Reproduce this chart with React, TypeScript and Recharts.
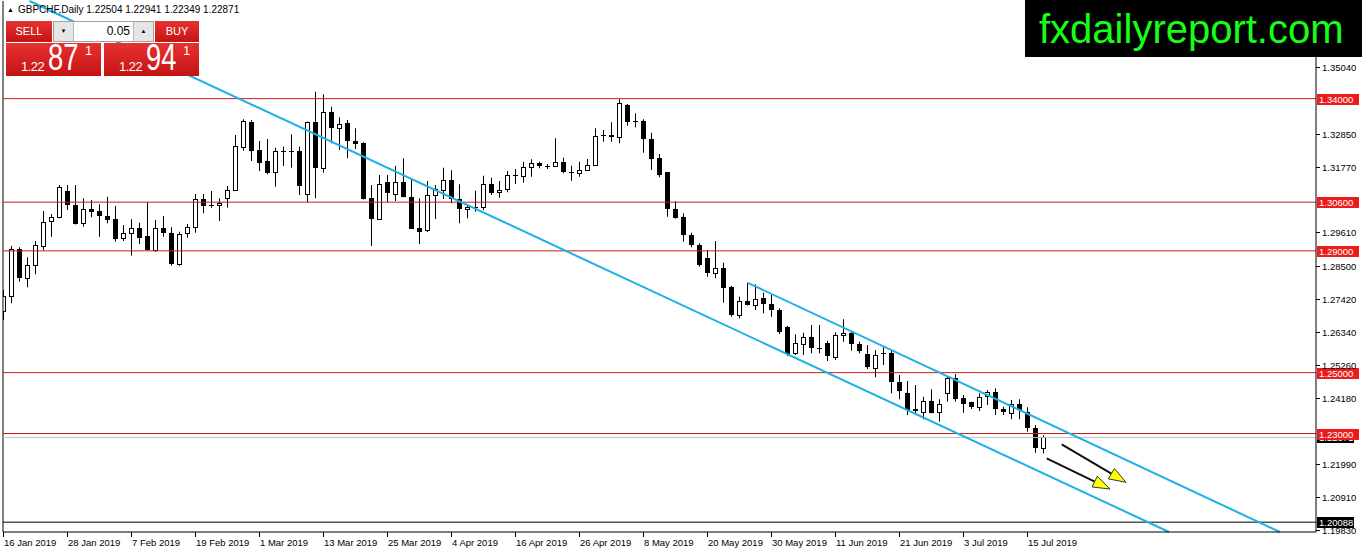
import React from 'react';
import { ComposedChart, Bar, XAxis, YAxis, ReferenceLine } from 'recharts';

const symbolTitle = 'GBPCHF,Daily';
const lastBar = ['1.22504', '1.22941', '1.22349', '1.22871'];

const dateLabels = [
  '16 Jan 2019', '28 Jan 2019', '7 Feb 2019', '19 Feb 2019', '1 Mar 2019', '13 Mar 2019',
  '25 Mar 2019', '4 Apr 2019', '16 Apr 2019', '26 Apr 2019', '8 May 2019', '20 May 2019',
  '30 May 2019', '11 Jun 2019', '21 Jun 2019', '3 Jul 2019', '15 Jul 2019',
];
const barsPerLabel = 8;

const opens = [
  1.27025, 1.27494, 1.29061, 1.28099, 1.28526, 1.29150, 1.29958, 1.30103, 1.30967, 1.30507,
  1.29906, 1.30375, 1.30310, 1.30145, 1.30047, 1.29400, 1.29577, 1.29741, 1.29488, 1.29028,
  1.29741, 1.29577, 1.28569, 1.29577, 1.29774, 1.30694, 1.30507, 1.30507, 1.30727, 1.30990,
  1.32402, 1.33243, 1.32304, 1.31952, 1.31601, 1.32281, 1.32271, 1.32281, 1.30858, 1.33223,
  1.31712, 1.33552, 1.33026, 1.33191, 1.32609, 1.32534, 1.30727, 1.30037, 1.31252, 1.30878,
  1.31272, 1.30779, 1.29735, 1.29685, 1.30835, 1.30999, 1.31318, 1.30694, 1.30375, 1.30418,
  1.30418, 1.31187, 1.30911, 1.31022, 1.31482, 1.31459, 1.31745, 1.31877, 1.31788, 1.31765,
  1.31909, 1.31568, 1.31535, 1.31647, 1.31844, 1.32783, 1.32806, 1.32731, 1.33792, 1.33243,
  1.33266, 1.32665, 1.32041, 1.31581, 1.30375, 1.30103, 1.29511, 1.29183, 1.28756, 1.28263,
  1.28427, 1.27803, 1.26916, 1.27363, 1.27222, 1.27442, 1.27245, 1.27057, 1.26489, 1.25635,
  1.25931, 1.26161, 1.25799, 1.25964, 1.25523, 1.26226, 1.26292, 1.25931, 1.25602, 1.25162,
  1.25635, 1.25635, 1.24682, 1.24321, 1.23805, 1.23717, 1.24068, 1.23717, 1.24354, 1.24814,
  1.24177, 1.24025, 1.23861, 1.24209, 1.24354, 1.23795, 1.23664, 1.23960, 1.23697, 1.23171,
  1.22504,
];
const highs = [
  1.27714, 1.29160, 1.29117, 1.28789, 1.29324, 1.30310, 1.30211, 1.31164, 1.31164, 1.31164,
  1.30727, 1.30671, 1.30530, 1.30779, 1.30474, 1.29850, 1.30037, 1.29925, 1.30595, 1.30014,
  1.30145, 1.29774, 1.29630, 1.29883, 1.30868, 1.30868, 1.30967, 1.30727, 1.31131, 1.32806,
  1.33322, 1.33299, 1.32609, 1.32675, 1.32389, 1.32422, 1.32829, 1.32422, 1.33250, 1.34229,
  1.34143, 1.33736, 1.33388, 1.33299, 1.33026, 1.32566, 1.31164, 1.31492, 1.31492, 1.31788,
  1.32041, 1.31328, 1.30727, 1.31295, 1.31164, 1.31732, 1.31647, 1.31187, 1.30530, 1.30977,
  1.31469, 1.31404, 1.31295, 1.31624, 1.31689, 1.31929, 1.32008, 1.31929, 1.31854, 1.32698,
  1.32061, 1.31798, 1.31929, 1.32018, 1.33026, 1.32970, 1.33223, 1.33979, 1.33825, 1.33519,
  1.33322, 1.32882, 1.32182, 1.31590, 1.30638, 1.30234, 1.29597, 1.29249, 1.29028, 1.29324,
  1.28611, 1.27846, 1.27494, 1.27954, 1.27902, 1.27626, 1.27550, 1.27113, 1.26532, 1.26259,
  1.26312, 1.26565, 1.26565, 1.26049, 1.26325, 1.26752, 1.26345, 1.26016, 1.25908, 1.25743,
  1.25852, 1.25766, 1.24922, 1.24725, 1.24594, 1.24209, 1.24452, 1.24124, 1.24889, 1.24955,
  1.24265, 1.24045, 1.24321, 1.24429, 1.24485, 1.23881, 1.24101, 1.24124, 1.23861, 1.23280,
  1.22941,
];
const lows = [
  1.26729, 1.27278, 1.27987, 1.27803, 1.28230, 1.29028, 1.29465, 1.30070, 1.30342, 1.29866,
  1.29794, 1.30103, 1.29465, 1.29906, 1.29301, 1.29324, 1.28841, 1.29226, 1.29005, 1.28973,
  1.29465, 1.28513, 1.28513, 1.29433, 1.29597, 1.30234, 1.30418, 1.29981, 1.30418, 1.30975,
  1.32291, 1.31952, 1.31624, 1.31515, 1.31108, 1.31788, 1.31732, 1.30835, 1.30595, 1.30727,
  1.31568, 1.32534, 1.32313, 1.32041, 1.32346, 1.30687, 1.29160, 1.30014, 1.30595, 1.30638,
  1.30760, 1.29718, 1.29226, 1.29620, 1.30047, 1.30704, 1.30563, 1.29906, 1.30070, 1.30287,
  1.30342, 1.30835, 1.30746, 1.30924, 1.31197, 1.31239, 1.31436, 1.31712, 1.31689, 1.31755,
  1.31548, 1.31305, 1.31436, 1.31630, 1.31828, 1.32586, 1.32586, 1.32534, 1.33112, 1.33059,
  1.32225, 1.31656, 1.31417, 1.30122, 1.30057, 1.29301, 1.29117, 1.28480, 1.28151, 1.28099,
  1.27297, 1.26837, 1.26785, 1.27205, 1.27057, 1.26949, 1.26837, 1.26269, 1.25546, 1.25579,
  1.25579, 1.25635, 1.25635, 1.25382, 1.25415, 1.26016, 1.25721, 1.25635, 1.25119, 1.24847,
  1.25251, 1.24321, 1.24124, 1.23608, 1.23608, 1.23467, 1.23664, 1.23388, 1.24045, 1.24045,
  1.23684, 1.23805, 1.23740, 1.23937, 1.23608, 1.23608, 1.23467, 1.23467, 1.23060, 1.22370,
  1.22349,
];
const closes = [
  1.27517, 1.29051, 1.28099, 1.28526, 1.29183, 1.29938, 1.30103, 1.31088, 1.30497, 1.29892,
  1.30365, 1.30287, 1.30155, 1.30014, 1.29400, 1.29577, 1.29741, 1.29400, 1.29028, 1.29741,
  1.29577, 1.28569, 1.29544, 1.29774, 1.30694, 1.30451, 1.30490, 1.30582, 1.30990, 1.32445,
  1.33266, 1.32291, 1.31863, 1.31548, 1.32281, 1.32271, 1.32281, 1.31141, 1.33223, 1.31712,
  1.33552, 1.33026, 1.33158, 1.32609, 1.32520, 1.30704, 1.30037, 1.31187, 1.30878, 1.31272,
  1.30779, 1.29741, 1.29620, 1.30835, 1.31022, 1.31318, 1.30704, 1.30365, 1.30441, 1.30431,
  1.31187, 1.30891, 1.30990, 1.31492, 1.31436, 1.31765, 1.31877, 1.31765, 1.31778, 1.31909,
  1.31568, 1.31581, 1.31647, 1.31821, 1.32783, 1.32796, 1.32750, 1.33848, 1.33223, 1.33256,
  1.32665, 1.32008, 1.31469, 1.30365, 1.30090, 1.29511, 1.29170, 1.28513, 1.28263, 1.28427,
  1.27770, 1.26893, 1.27363, 1.27222, 1.27429, 1.27245, 1.27057, 1.26325, 1.25612, 1.25964,
  1.26161, 1.25799, 1.25809, 1.25523, 1.26236, 1.26292, 1.25931, 1.25688, 1.25162, 1.25579,
  1.25622, 1.24682, 1.24374, 1.23772, 1.23740, 1.24068, 1.23684, 1.23970, 1.24834, 1.24134,
  1.23993, 1.23848, 1.24190, 1.24354, 1.23795, 1.23697, 1.23960, 1.23750, 1.23171, 1.22514,
  1.22871,
];

const priceTicks = [
  1.3504, 1.3285, 1.3177, 1.2961, 1.285, 1.2742, 1.2634, 1.2526,
  1.2418, 1.2199, 1.2091, 1.1983,
];
const redLevels = [1.34, 1.306, 1.29, 1.25];
const level123 = 1.23;
const bidLevel = 1.22871;
const blackLevel = 1.20088;

const lowerChannel = [{ x: 3.31, y: 1.37208 }, { x: 145.75, y: 1.19766 }];
const upperChannel = [{ x: 93.1, y: 1.2795 }, { x: 159.6, y: 1.19766 }];
const arrowA = [{ x: 132.34, y: 1.22646 }, { x: 140.375, y: 1.21397 }];
const arrowB = [{ x: 130.46, y: 1.22186 }, { x: 138.375, y: 1.21177 }];

const xDomain = [0, 164.125];
const yDomain = [1.19765, 1.37208];

const data = opens.map((o, i) => ({
  i,
  open: o,
  high: highs[i],
  low: lows[i],
  close: closes[i],
  range: [lows[i], highs[i]],
}));
const xTicks = dateLabels.map((_, k) => k * barsPerLabel);

const FONT = '"Liberation Sans", Arial, sans-serif';
const AX = 9.5;

const Candle = (props: any) => {
  const { x, y, width, height } = props;
  const p = props.payload || props;
  const cx = Math.round(x + width / 2);
  const span = p.high - p.low;
  const toY = (v: number) => y + ((p.high - v) / span) * height;
  const yo = toY(p.open);
  const yc = toY(p.close);
  const top = Math.min(yo, yc);
  const bot = Math.max(yo, yc);
  const bull = p.close >= p.open;
  const h = bot - top;
  return (
    <g>
      <line x1={cx + 0.5} x2={cx + 0.5} y1={y} y2={y + height} stroke="#000" strokeWidth={1} />
      {h < 1.5 ? (
        <line x1={cx - 2} x2={cx + 3} y1={Math.round(top) + 0.5} y2={Math.round(top) + 0.5} stroke="#000" strokeWidth={1} />
      ) : bull ? (
        <rect x={cx - 1.5} y={Math.round(top) + 0.5} width={4} height={Math.round(h)} fill="#fff" stroke="#000" strokeWidth={1} />
      ) : (
        <rect x={cx - 2} y={Math.round(top)} width={5} height={Math.max(1, Math.round(h))} fill="#000" />
      )}
    </g>
  );
};

const XTick = (props: any) => {
  const { x, y, payload } = props;
  const label = dateLabels[Math.round(payload.value / barsPerLabel)];
  const xx = Math.round(x);
  return (
    <g>
      <line x1={xx + 0.5} x2={xx + 0.5} y1={y} y2={y + 5} stroke="#000" />
      <text x={xx + 1} y={y + 13.5} fontSize={AX} fontFamily={FONT} fill="#000">
        {label}
      </text>
    </g>
  );
};

const YTick = (props: any) => {
  const { x, y, payload } = props;
  const yy = Math.round(y);
  return (
    <g>
      <line x1={x} x2={x + 4} y1={yy + 0.5} y2={yy + 0.5} stroke="#000" />
      <text x={x + 6} y={yy + 4} fontSize={AX} fontFamily={FONT} fill="#000">
        {Number(payload.value).toFixed(5)}
      </text>
    </g>
  );
};

const makeTag = (value: number, bg: string, w: number) => (props: any) => {
  const vb = props.viewBox || {};
  const right = vb.x + vb.width;
  const cy = Math.round(vb.y);
  return (
    <g>
      <rect x={right + 1} y={cy - 5} width={w} height={11} fill={bg} />
      <text x={right + 3} y={cy + 4} fontSize={AX} fontFamily={FONT} fill="#fff">
        {value.toFixed(5)}
      </text>
    </g>
  );
};

const ArrowShape = (props: any) => {
  const { x1, y1, x2, y2 } = props;
  const dx = x2 - x1;
  const dy = y2 - y1;
  const len = Math.sqrt(dx * dx + dy * dy) || 1;
  const ux = dx / len;
  const uy = dy / len;
  const L = 17;
  const W = 6;
  const bx = x2 - ux * L;
  const by = y2 - uy * L;
  const pts = `${x2},${y2} ${bx - uy * W},${by + ux * W} ${bx + uy * W},${by - ux * W}`;
  return (
    <g>
      <line x1={x1} y1={y1} x2={bx} y2={by} stroke="#111" strokeWidth={2} />
      <polygon points={pts} fill="#ffff00" stroke="#333" strokeWidth={1} />
    </g>
  );
};

const redBox = 'linear-gradient(#e73131, #c41414)';

const PriceBox = ({ left, big }: { left: number; big: string }) => (
  <div style={{ position: 'absolute', left, top: 43, width: 95, height: 33, background: redBox, color: '#fff', fontFamily: FONT }}>
    <span style={{ position: 'absolute', left: 15, top: 17, fontSize: 13, lineHeight: '13px', letterSpacing: -0.5 }}>1.22</span>
    <span style={{ position: 'absolute', left: 42, top: -3, fontSize: 36, lineHeight: '36px', transform: 'scaleX(0.76)', transformOrigin: 'left top', display: 'inline-block' }}>{big}</span>
    <span style={{ position: 'absolute', left: 79, top: 1, fontSize: 13, lineHeight: '13px' }}>1</span>
  </div>
);

export default function App() {
  return (
    <div style={{ position: 'absolute', left: 0, top: 0, width: 1362, height: 553, overflow: 'hidden', background: '#fff' }}>
      <ComposedChart width={1362} height={553} data={data} margin={{ top: 1, right: 0, bottom: 0, left: 3 }}>
        <XAxis
          type="number"
          dataKey="i"
          domain={xDomain}
          allowDataOverflow
          ticks={xTicks}
          interval={0}
          tick={XTick}
          tickLine={false}
          tickSize={0}
          tickMargin={0}
          height={21}
          axisLine={{ stroke: '#000' }}
        />
        <YAxis
          orientation="right"
          type="number"
          domain={yDomain}
          allowDataOverflow
          ticks={priceTicks}
          interval={0}
          tick={YTick}
          tickLine={false}
          tickSize={0}
          tickMargin={0}
          width={46}
          axisLine={{ stroke: '#000' }}
        />
        <ReferenceLine x={0} stroke="#000" ifOverflow="visible" />
        {redLevels.map((v) => (
          <ReferenceLine key={v} y={v} stroke="#d01818" ifOverflow="visible" label={makeTag(v, '#ec1c1c', 42)} />
        ))}
        <ReferenceLine y={bidLevel} stroke="#c0c0c0" ifOverflow="visible" label={makeTag(bidLevel, '#000', 37)} />
        <ReferenceLine y={level123} stroke="#d01818" ifOverflow="visible" label={makeTag(level123, '#ec1c1c', 42)} />
        <ReferenceLine y={blackLevel} stroke="#000" ifOverflow="visible" label={makeTag(blackLevel, '#000', 37)} />
        <Bar dataKey="range" barSize={5} shape={Candle} isAnimationActive={false} />
        <ReferenceLine segment={lowerChannel} stroke="#1eb0e6" strokeWidth={2} ifOverflow="visible" />
        <ReferenceLine segment={upperChannel} stroke="#1eb0e6" strokeWidth={2} ifOverflow="visible" />
        <ReferenceLine segment={arrowA} ifOverflow="visible" shape={ArrowShape} />
        <ReferenceLine segment={arrowB} ifOverflow="visible" shape={ArrowShape} />
      </ComposedChart>

      <div style={{ position: 'absolute', left: 7, top: 4, fontFamily: FONT, fontSize: 10, lineHeight: '12px', color: '#000', whiteSpace: 'nowrap' }}>
        <span style={{ fontSize: 7, marginRight: 4, position: 'relative', top: -1 }}>▲</span>
        {symbolTitle} {lastBar.join(' ')}
      </div>

      <div style={{ position: 'absolute', left: 6, top: 21, width: 46, height: 21, background: redBox, color: '#fff', fontFamily: FONT, fontSize: 11, lineHeight: '21px', textAlign: 'center' }}>SELL</div>
      <div style={{ position: 'absolute', left: 53, top: 21, width: 99, height: 19, border: '1px solid #a0a0a0', background: '#fff', fontFamily: FONT }}>
        <div style={{ position: 'absolute', left: 0, top: 0, width: 19, height: 19, background: '#e6e6e6', borderRight: '1px solid #b8b8b8', fontSize: 6, lineHeight: '19px', textAlign: 'center', color: '#000' }}>▼</div>
        <div style={{ position: 'absolute', left: 20, top: 0, width: 56, height: 19, fontSize: 12, lineHeight: '19px', textAlign: 'right', color: '#000' }}>0.05</div>
        <div style={{ position: 'absolute', right: 0, top: 0, width: 19, height: 19, background: '#e6e6e6', borderLeft: '1px solid #b8b8b8', fontSize: 6, lineHeight: '19px', textAlign: 'center', color: '#000' }}>▲</div>
      </div>
      <div style={{ position: 'absolute', left: 155, top: 21, width: 44, height: 21, background: redBox, color: '#fff', fontFamily: FONT, fontSize: 11, lineHeight: '21px', textAlign: 'center' }}>BUY</div>
      <PriceBox left={6} big="87" />
      <PriceBox left={104} big="94" />

      <div style={{ position: 'absolute', left: 1025, top: 0, width: 337, height: 57, background: '#000' }}>
        <span style={{ position: 'absolute', left: 14, top: 9, fontFamily: FONT, fontSize: 40, lineHeight: '40px', color: '#17ff17', whiteSpace: 'nowrap' }}>fxdailyreport.com</span>
      </div>
    </div>
  );
}
